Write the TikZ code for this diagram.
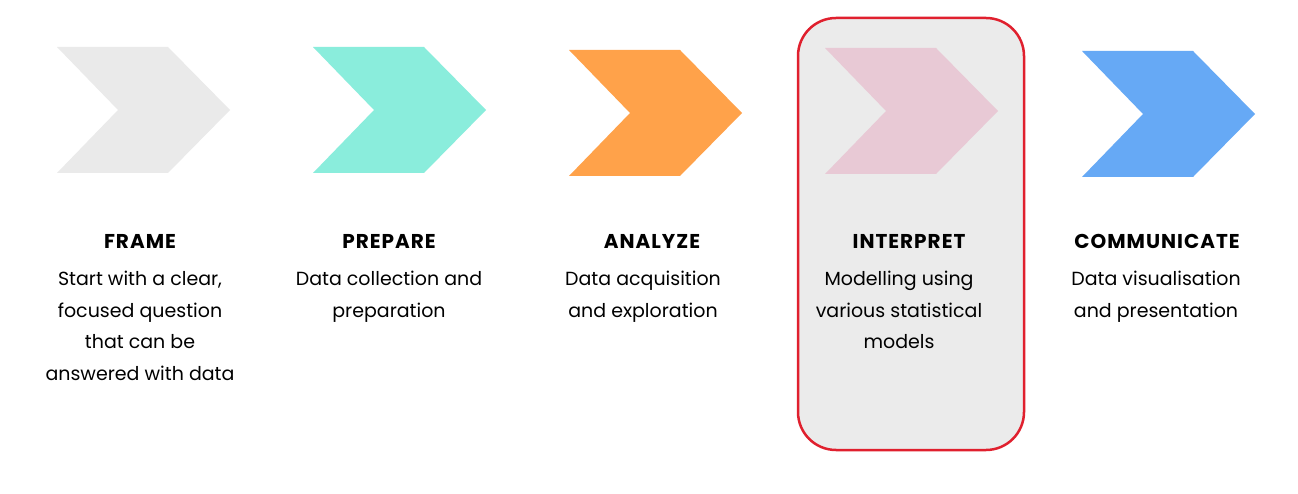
\documentclass[tikz,border=0pt]{standalone}
\usepackage{fontspec}
\setmainfont{Poppins}
\definecolor{cgray}{HTML}{EAEAEA}
\definecolor{cteal}{HTML}{8AEDDC}
\definecolor{corange}{HTML}{FFA24A}
\definecolor{cpink}{HTML}{E8C9D5}
\definecolor{cblue}{HTML}{66A9F5}
\definecolor{boxfill}{HTML}{EBEBEB}
\definecolor{boxred}{HTML}{E0202E}
\begin{document}
\begin{tikzpicture}[x=1pt,y=-1pt,
  title/.style={font=\fontsize{20}{22}\selectfont\bfseries\addfontfeatures{LetterSpace=5}, inner sep=0pt, anchor=center},
  desc/.style={font=\fontsize{19}{31.5}\selectfont, align=center, inner sep=0pt, anchor=north},
  highlight/.style={draw=boxred, line width=2.5pt, fill=boxfill, rounded corners=38pt}]
\useasboundingbox (0,0) rectangle (1298,494);
\fill[white] (0,0) rectangle (1298,494);
% highlighted step
\draw[highlight] (798,18) rectangle (1024,450);
% chevrons: left edge, top edge, colour
\foreach \L/\T/\c in {57/47/cgray, 313/47/cteal, 569/50/corange, 825/48/cpink, 1082/51/cblue}{
  \fill[\c] (\L,\T) -- ++(111,0) -- ++(62,63) -- ++(-62,63) -- ++(-111,0) -- ++(61,-63) -- cycle;
}
% step titles
\node[title] (t1) at (140,241) {FRAME};
\node[title] (t2) at (389,241) {PREPARE};
\node[title] (t3) at (652,241) {ANALYZE};
\node[title] (t4) at (909,241) {INTERPRET};
\node[title] (t5) at (1157,241) {COMMUNICATE};
% step descriptions
\node[desc] (d1) at (140,271) {Start with a clear,\\focused question\\that can be\\answered with data};
\node[desc] (d2) at (389,271) {Data collection and\\preparation};
\node[desc] (d3) at (643,271) {Data acquisition\\and exploration};
\node[desc] (d4) at (899,271) {Modelling using\\various statistical\\models};
\node[desc] (d5) at (1156,271) {Data visualisation\\and presentation};
\end{tikzpicture}
\end{document}
